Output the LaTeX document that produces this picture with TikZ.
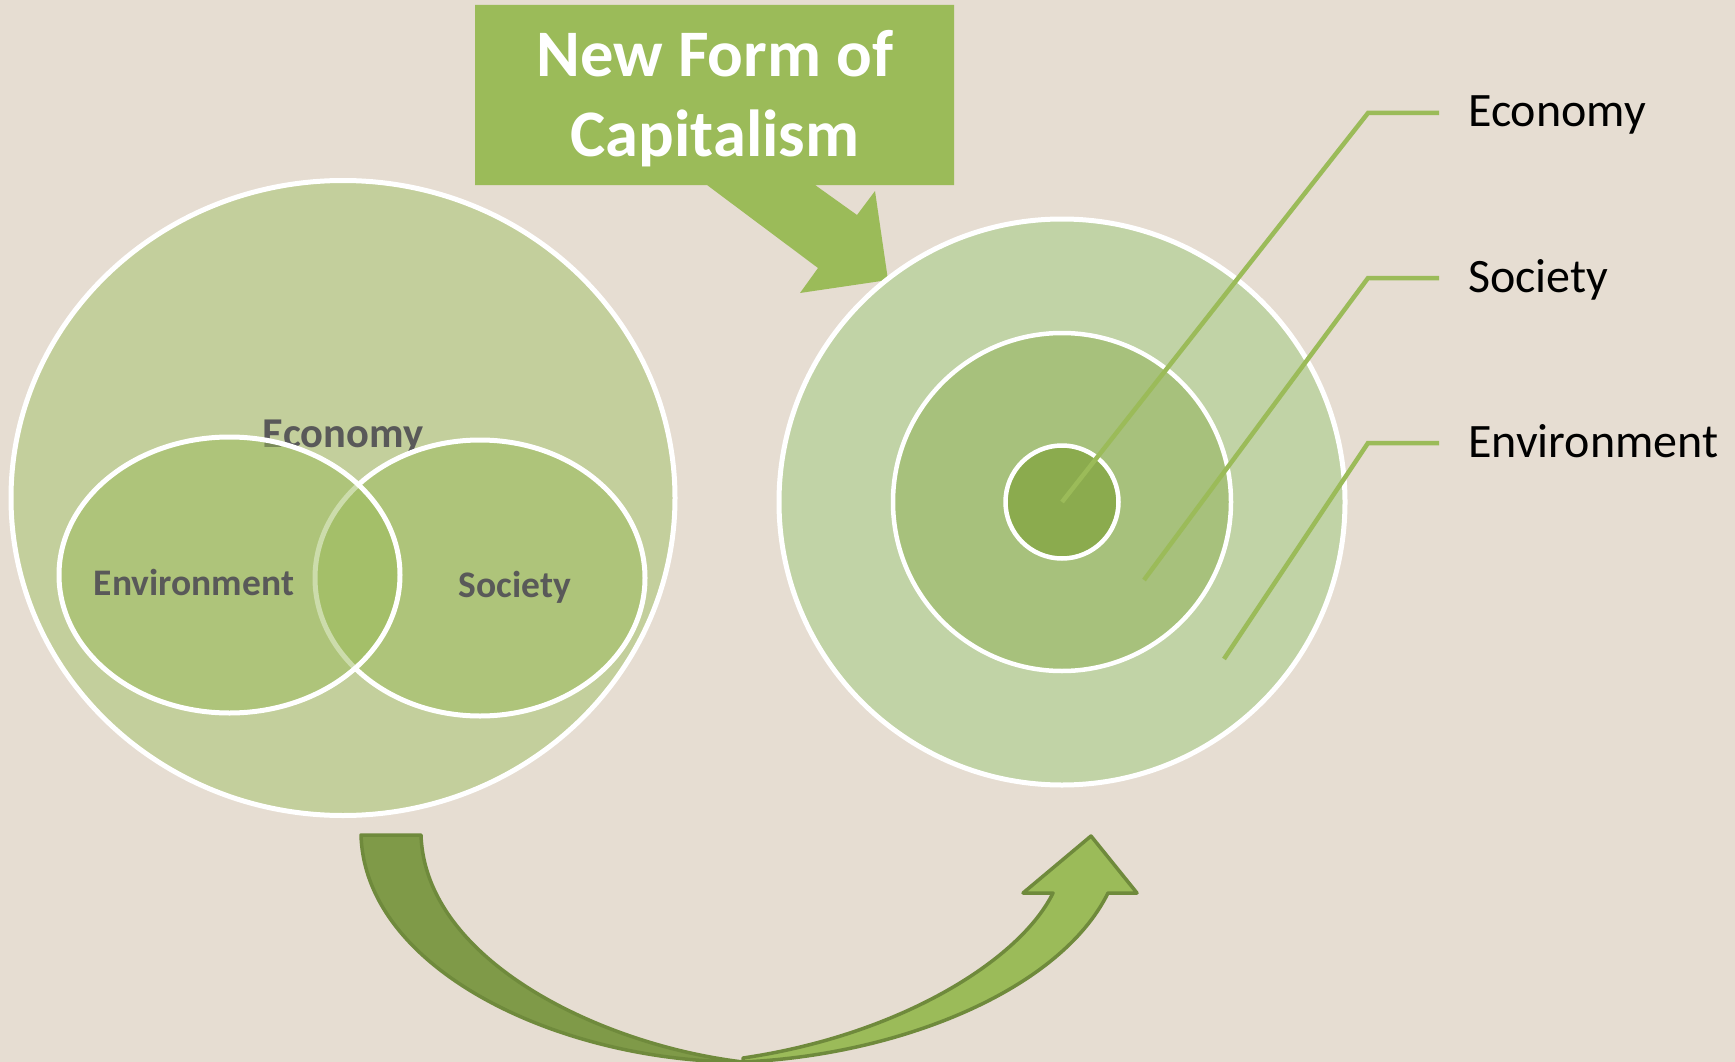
\documentclass[tikz,border=0pt]{standalone}
\usepackage{fontspec}
\setmainfont{Carlito}
\usepackage{xcolor}
\usepackage{tikz}
\usetikzlibrary{positioning}

\definecolor{linen}{HTML}{E6DDD2}
\definecolor{leafgreen}{HTML}{9BBB59}
\definecolor{palegreen}{HTML}{C3CF9C}
\definecolor{ringone}{HTML}{C1D3A6}
\definecolor{ringtwo}{HTML}{A7C17C}
\definecolor{ringthree}{HTML}{8BAB4E}
\definecolor{olivedark}{HTML}{7F9A48}
\definecolor{oliveline}{HTML}{6F8A3C}
\definecolor{slategray}{HTML}{595959}

\tikzset{
    venn/.style={line width=5pt, draw=white, fill=leafgreen, fill opacity=0.5},
    ring/.style={line width=4.5pt, draw=white},
    venntext/.style={font=\bfseries\fontsize{37.5}{42}\selectfont, text=slategray, inner sep=0pt},
    labeltext/.style={font=\fontsize{48}{54}\selectfont, text=black, inner sep=0pt},
    calltext/.style={font=\bfseries\fontsize{66.5}{76}\selectfont, text=white, inner sep=0pt},
    leader/.style={line width=4.5pt, draw=leafgreen},
    bendarrow/.style={line width=3.5pt, draw=oliveline, line join=round}
}

\begin{document}
\begin{tikzpicture}[x=1pt,y=-1pt]
                \fill[linen] (0,0) rectangle (1735,1062);
                \useasboundingbox (0,0) rectangle (1735,1062);

                \fill[
                    leafgreen
                    ] (475,5) -- (954,5) -- (954,185) -- (815,185) -- (857,215)
                      -- (875,191) -- (888,280) -- (800,293) -- (818,268)
                      -- (707,185) -- (475,185) -- cycle;
                \node[calltext, anchor=base] (titletop) at (715,77) {New Form of};
                \node[calltext, anchor=base] (titlebottom) at (715,157) {Capitalism};

                \draw[
                    line width=5pt,
                    draw=white,
                    fill=palegreen
                    ] (343,498) ellipse [x radius=332pt, y radius=317.5pt];
                \node[venntext, font=\bfseries\fontsize{42.5}{48}\selectfont, anchor=base] (econleft) at (343,447) {Economy};

                \draw[venn] (480,578) ellipse [x radius=165pt, y radius=138pt];
                \draw[venn] (229.5,575) ellipse [x radius=170.5pt, y radius=138pt];
                \node[venntext, anchor=base] (envleft) at (194,595) {Environment};
                \node[venntext, anchor=base] (socleft) at (515,597) {Society};

                \draw[ring, line width=5pt, fill=ringone] (1062,502) circle [radius=283pt];
                \draw[ring, fill=ringtwo] (1062,502) circle [radius=169pt];
                \draw[ring, fill=ringthree] (1062,502) circle [radius=56.5pt];

                \coordinate (core) at (1062,502);
                \coordinate (midband) at (1144,580);
                \coordinate (outband) at (1224,659);
                \coordinate (econend) at (1439,113);
                \coordinate (socend) at (1439,278);
                \coordinate (envend) at (1439,443);
                \node[labeltext, anchor=base west] (econright) at (1468,127) {Economy};
                \node[labeltext, anchor=base west] (socright) at (1468,292) {Society};
                \node[labeltext, anchor=base west] (envright) at (1468,457) {Environment};

                \draw[leader] (core) -- (1368,113) -- (econend);
                \draw[leader] (midband) -- (1368,278) -- (socend);
                \draw[leader] (outband) -- (1368,443) -- (envend);

                \draw[
                    bendarrow,
                    fill=olivedark
                    ] (361,835) .. controls (365,970) and (560,1062) .. (743,1062)
                      .. controls (600,1045) and (425,960) .. (421,835) -- cycle;

                \draw[
                    bendarrow,
                    fill=leafgreen
                    ] (743,1062) .. controls (900,1055) and (1060,990) .. (1108,893)
                      -- (1137,893) -- (1091,836) -- (1023,893) -- (1053,893)
                      .. controls (1020,960) and (900,1035) .. (743,1058) -- cycle;

            \end{tikzpicture}
\end{document}
